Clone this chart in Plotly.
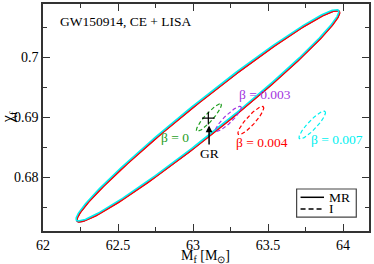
import numpy as np
import plotly.graph_objects as go

# ---- data ----
betas = [0.0, 0.003, 0.004, 0.007]
beta_labels = ["β = 0", "β = 0.003", "β = 0.004", "β = 0.007"]
colors = ["#1e9e1e", "#a235e0", "#ff0000", "#00f0f0"]

# MR (solid) 90% ellipses: center, major semi-axis vector, minor semi-axis vector
mr_cx = [63.100, 63.100, 63.102, 63.096]
mr_cy = [0.69018, 0.69018, 0.69016, 0.69031]
mr_ax = [0.8727, 0.8727, 0.8727, 0.8727]
mr_ay = [0.01752, 0.01752, 0.01752, 0.01752]
mr_bx = [0.0694, 0.0694, 0.0694, 0.0694]
mr_by = [-0.002105, -0.002105, -0.002105, -0.002105]

# I (dashed) ellipses
i_cx = [63.1057, 63.2357, 63.3853, 63.7947]
i_cy = [0.68994, 0.68972, 0.68945, 0.68868]
i_ax = [0.0810, 0.0843, 0.0833, 0.0857]
i_ay = [0.002278, 0.002056, 0.002327, 0.002278]
i_bx = [0.0200, 0.0190, 0.0225, 0.0220]
i_by = [-0.000434, -0.000467, -0.00049, -0.000503]

# GR point
gr_x = [63.102]
gr_y = [0.68985]

# label positions
lab_x = [62.985, 63.48, 63.46, 63.96]
lab_y = [0.68656, 0.69375, 0.68586, 0.68635]
lab_anchor = ["right", "center", "center", "center"]

x_range = [62.0, 64.173]
y_range = [0.671, 0.7089]
x_ticks = [62, 62.5, 63, 63.5, 64]
y_ticks = [0.68, 0.69, 0.70]
y_ticklabels = ["0.68", "0.69", "0.7"]

FONT = "Liberation Serif, Times New Roman, Times, serif"
t = np.linspace(0, 2 * np.pi, 400)

fig = go.Figure()

for k in range(len(betas)):
    xs = mr_cx[k] + mr_ax[k] * np.cos(t) + mr_bx[k] * np.sin(t)
    ys = mr_cy[k] + mr_ay[k] * np.cos(t) + mr_by[k] * np.sin(t)
    fig.add_trace(go.Scatter(x=xs, y=ys, mode="lines",
                             line=dict(color=colors[k], width=1.6),
                             showlegend=False, hoverinfo="skip"))

for k in range(len(betas)):
    xs = i_cx[k] + i_ax[k] * np.cos(t) + i_bx[k] * np.sin(t)
    ys = i_cy[k] + i_ay[k] * np.cos(t) + i_by[k] * np.sin(t)
    fig.add_trace(go.Scatter(x=xs, y=ys, mode="lines",
                             line=dict(color=colors[k], width=1.2, dash="4px,2.5px"),
                             showlegend=False, hoverinfo="skip"))

fig.add_trace(go.Scatter(x=gr_x, y=gr_y, mode="markers",
                         marker=dict(symbol="cross-thin", size=9,
                                     line=dict(color="black", width=1.2)),
                         showlegend=False, hoverinfo="skip"))

annotations = []
for k in range(len(betas)):
    annotations.append(dict(x=lab_x[k], y=lab_y[k], text=beta_labels[k],
                            showarrow=False, xanchor=lab_anchor[k], yanchor="middle",
                            font=dict(family=FONT, size=13.5, color=colors[k])))

annotations.append(dict(x=gr_x[0] + 0.005, y=0.6886, text="GR", showarrow=True,
                        ax=0, ay=28, arrowhead=2, arrowsize=0.9, arrowwidth=1.5,
                        arrowcolor="black", standoff=0,
                        font=dict(family=FONT, size=13.5, color="black")))

annotations.append(dict(x=62.1, y=0.7059, text="GW150914, CE + LISA",
                        showarrow=False, xanchor="left", yanchor="middle",
                        font=dict(family=FONT, size=13.5, color="black")))

# axis titles
annotations.append(dict(xref="paper", yref="paper", x=0.498, y=-0.112, yanchor="middle",
                        xanchor="center",
                        text="M<sub>f</sub> [M<sub>⊙</sub>]", showarrow=False,
                        font=dict(family=FONT, size=14, color="black")))
annotations.append(dict(xref="paper", yref="paper", x=-0.105, y=0.5, textangle=-90,
                        xanchor="center", yanchor="middle",
                        text="χ<sub>f</sub>", showarrow=False,
                        font=dict(family=FONT, size=16, color="black")))

# legend (manual)
shapes = [
    dict(type="rect", xref="paper", yref="paper", x0=0.778, x1=0.961, y0=0.061, y1=0.185,
         line=dict(color="#444", width=1.2), fillcolor="white"),
    dict(type="line", xref="paper", yref="paper", x0=0.79, x1=0.862, y0=0.1485, y1=0.1485,
         line=dict(color="black", width=1.5)),
    dict(type="line", xref="paper", yref="paper", x0=0.79, x1=0.862, y0=0.0974, y1=0.0974,
         line=dict(color="black", width=1.5, dash="5px,3px")),
]
annotations.append(dict(xref="paper", yref="paper", x=0.872, y=0.1485, text="MR",
                        showarrow=False, xanchor="left", yanchor="middle",
                        font=dict(family=FONT, size=13.5, color="black")))
annotations.append(dict(xref="paper", yref="paper", x=0.872, y=0.0974, text="I",
                        showarrow=False, xanchor="left", yanchor="middle",
                        font=dict(family=FONT, size=13.5, color="black")))

axis_common = dict(showgrid=False, zeroline=False, showline=True, linecolor="#333",
                   linewidth=1.5, mirror="allticks", ticks="inside", ticklen=7,
                   tickwidth=1, tickcolor="#333",
                   tickfont=dict(family=FONT, size=14, color="black"))

fig.update_layout(
    width=374, height=264,
    margin=dict(l=43, r=5, t=2, b=33),
    plot_bgcolor="white", paper_bgcolor="white",
    font=dict(family=FONT, size=14, color="black"),
    xaxis=dict(range=x_range, tickvals=x_ticks,
               minor=dict(dtick=0.25, ticks="inside", ticklen=4, tickcolor="#333"),
               **axis_common),
    yaxis=dict(range=y_range, tickvals=y_ticks, ticktext=y_ticklabels,
               minor=dict(dtick=0.005, ticks="inside", ticklen=4, tickcolor="#333"),
               **axis_common),
    annotations=annotations, shapes=shapes, showlegend=False,
)

fig.write_html("out.html", config={"displayModeBar": False},
               post_script="document.body.style.margin='0';document.body.style.overflow='hidden';")
